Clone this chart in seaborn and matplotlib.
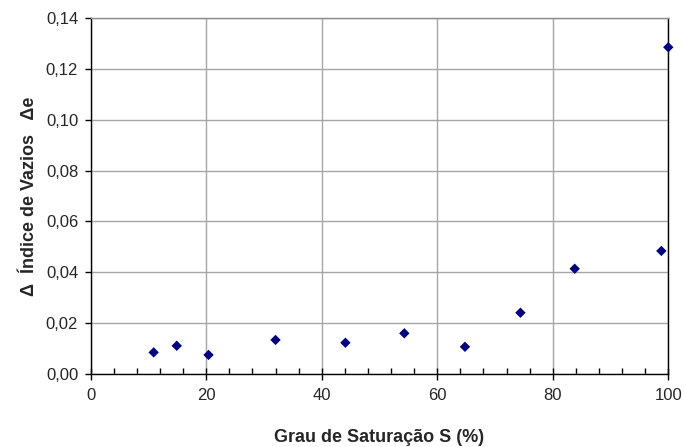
import matplotlib
matplotlib.use("Agg")
import matplotlib.pyplot as plt
from matplotlib.ticker import MultipleLocator, FuncFormatter
import seaborn as sns
import pandas as pd

# Degree of saturation (%) and change in void ratio
saturacao = [10.9, 14.9, 20.4, 32.0, 44.1, 54.3, 64.8, 74.4, 83.8, 98.8, 100.0]
delta_e = [0.0085, 0.0111, 0.0075, 0.0134, 0.0123, 0.0160, 0.0107, 0.0241, 0.0414, 0.0484, 0.1285]

x_ticks = [0, 20, 40, 60, 80, 100]
y_ticks = [0.00, 0.02, 0.04, 0.06, 0.08, 0.10, 0.12, 0.14]

df = pd.DataFrame({"S": saturacao, "de": delta_e})

sns.set_theme(style="white")
plt.rcParams["font.family"] = ["Liberation Sans", "DejaVu Sans"]

fig = plt.figure(figsize=(6.85, 4.47), dpi=100)
ax = fig.add_axes([0.1324, 0.1633, 0.9756 - 0.1324, 0.9597 - 0.1633])

sns.scatterplot(data=df, x="S", y="de", marker="D", s=28, color="#000080",
                edgecolor="none", ax=ax, zorder=3, legend=False, clip_on=False)

ax.set_xlim(0, 100)
ax.set_ylim(0, 0.14)
ax.set_xticks(x_ticks)
ax.set_yticks(y_ticks)
ax.xaxis.set_minor_locator(MultipleLocator(4))
ax.yaxis.set_major_formatter(FuncFormatter(lambda v, p: f"{v:.2f}".replace(".", ",")))
ax.xaxis.set_major_formatter(FuncFormatter(lambda v, p: f"{v:.0f}"))

ax.grid(True, which="major", color="#a6a6a6", linewidth=1.0)
ax.set_axisbelow(True)

for side in ["left", "bottom", "right", "top"]:
    ax.spines[side].set_visible(True)
    ax.spines[side].set_color("black")
    ax.spines[side].set_linewidth(1.0)
ax.spines["top"].set_color("#8c8c8c")

ax.tick_params(axis="x", which="major", direction="inout", length=8, width=1,
               color="black", labelsize=12, pad=6, bottom=True)
ax.tick_params(axis="x", which="minor", direction="in", length=4, width=1,
               color="black", bottom=True)
ax.tick_params(axis="y", which="major", direction="out", length=4, width=1,
               color="black", labelsize=12, pad=5, left=True)

ax.set_xlabel("Grau de Saturação S (%)", fontsize=13, fontweight="bold", va="center")
ax.set_ylabel("Δ  Índice de Vazios   Δe", fontsize=13, fontweight="bold", va="center")
ax.xaxis.set_label_coords(0.5, -0.177)
ax.yaxis.set_label_coords(-0.106, 0.5)

fig.savefig("out.png", dpi=100, facecolor="white")
